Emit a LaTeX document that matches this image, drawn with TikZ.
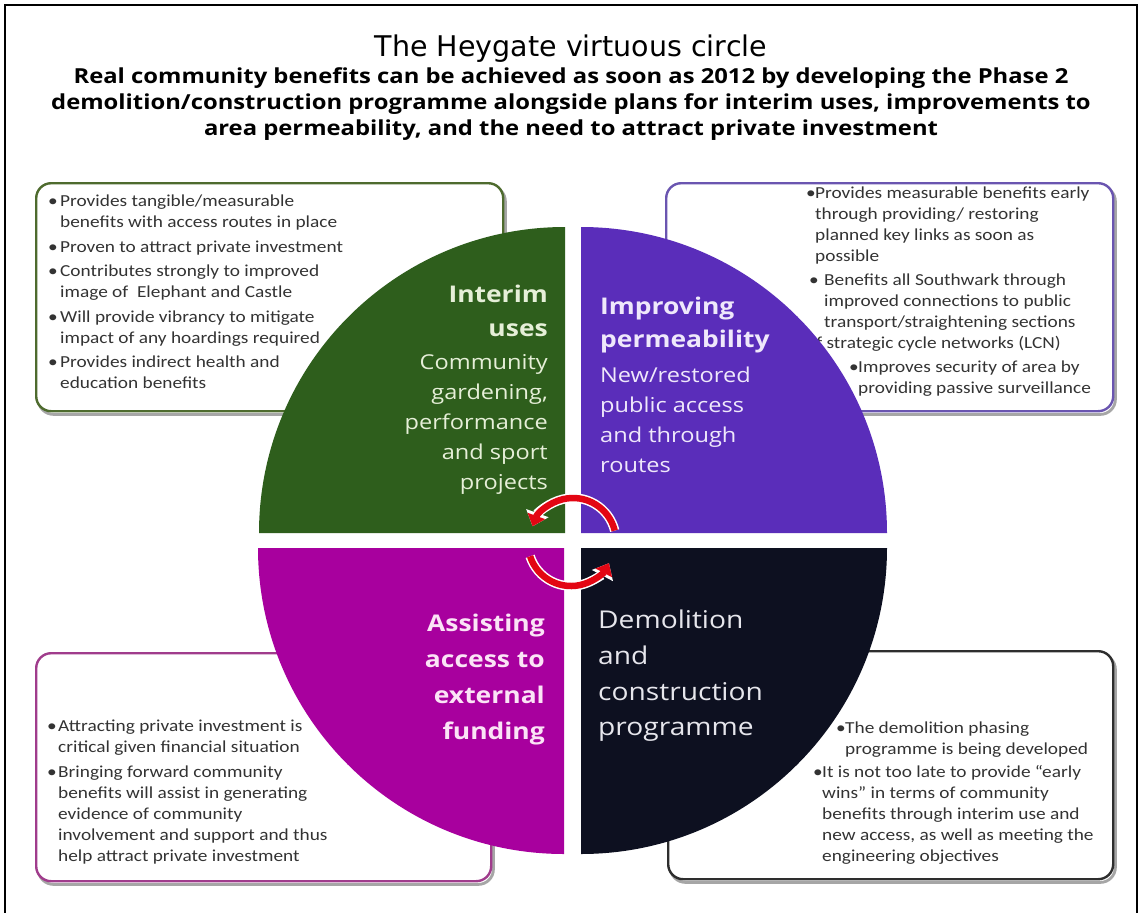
\documentclass[tikz,border=0pt]{standalone}
\usepackage{fontspec}
\setmainfont[FakeStretch=1.15]{Open Sans}
\newfontfamily\boxfont[FakeStretch=1.15]{Carlito}
\newfontfamily\titlefont{DejaVu Sans}
\usetikzlibrary{arrows.meta,calc}
\definecolor{qgreen}{HTML}{2E5E1C}
\definecolor{qpurple}{HTML}{5A2DBA}
\definecolor{qmagenta}{HTML}{A8009E}
\definecolor{qblack}{HTML}{0D1020}
\definecolor{bgreen}{HTML}{4E6B2E}
\definecolor{bpurple}{HTML}{6A55B0}
\definecolor{bmagenta}{HTML}{A03C8C}
\definecolor{bblack}{HTML}{2E2E2E}
\definecolor{arrred}{HTML}{E30613}
\definecolor{tgreen}{HTML}{E6EFD8}
\definecolor{tpurple}{HTML}{EFE8FB}
\definecolor{tmagenta}{HTML}{FBE3F6}
\definecolor{tblack}{HTML}{E6E6EC}
\newcommand\bul[1][9pt]{\makebox[#1][l]{\textbullet}}
\tikzset{
  infobox/.style={draw, fill=white, line width=2.4pt, rounded corners=15pt, anchor=north west, inner sep=0pt, minimum height=228pt},
  boxshadow/.style={draw=black!35, line width=2.8pt, rounded corners=15pt, anchor=north west, inner sep=0pt, minimum height=228pt},
  boxtext/.style={anchor=north west, align=left, inner sep=0pt, text=black!80,
    font=\boxfont\fontsize{16.8}{21}\selectfont},
  qlabel/.style={inner sep=0pt},
  redarc/.style={draw=arrred, line width=6.5pt, -{Triangle[length=11pt,width=18pt]}},
  whitearc/.style={draw=white, line width=9.5pt, -{Triangle[length=14pt,width=23pt]}},
}
\begin{document}
\begin{tikzpicture}[x=1pt,y=-1pt]
\useasboundingbox (0,0) rectangle (1141,913);
\fill[white] (0,0) rectangle (1141,913);
\draw[line width=2pt] (5,913) -- (5,5) -- (1137,5) -- (1137,913);

% title
\node (title) at (571,49) {\titlefont\fontsize{28.5}{32}\selectfont The Heygate virtuous circle};
\node[align=center, font=\bfseries\fontsize{20.7}{26}\selectfont] (sub) at (571,104)
  {Real community benefits can be achieved as soon as 2012 by developing the Phase 2\\
   demolition/construction programme alongside plans for interim uses, improvements to\\
   area permeability, and the need to attract private investment};

% boxes
\node[boxshadow, minimum width=467pt] (gshadow) at (37,185) {};
\node[infobox, draw=bgreen, minimum width=467pt] (gbox) at (35,182) {};
\node[boxshadow, minimum width=447pt] (pshadow) at (667,185) {};
\node[infobox, draw=bpurple, minimum width=447pt] (pbox) at (665,182) {};
\node[boxshadow, minimum width=455pt] (mshadow) at (37,655) {};
\node[infobox, draw=bmagenta, minimum width=455pt] (mbox) at (35,652) {};
\node[boxshadow, minimum width=445pt] (kshadow) at (669,653) {};
\node[infobox, draw=bblack, minimum width=445pt] (kbox) at (667,650) {};

% box texts
\node[boxtext] (gtext) at (48,195) {%
\bul[12pt]Provides tangible/measurable\\
\hspace*{12pt}benefits with access routes in place\\[3.5pt]
\bul[12pt]Proven to attract private investment\\[3.5pt]
\bul[12pt]Contributes strongly to improved\\
\hspace*{12pt}image of \ Elephant and Castle\\[3.5pt]
\bul[12pt]Will provide vibrancy to mitigate\\
\hspace*{12pt}impact of any hoardings required\\[3.5pt]
\bul[12pt]Provides indirect health and\\
\hspace*{12pt}education benefits};

\node[boxtext] (ptext) at (806,187) {%
\bul Provides measurable benefits early\\
\hspace*{9pt}through providing/ restoring\\
\hspace*{9pt}planned key links as soon as\\
\hspace*{9pt}possible\\[3pt]
\hspace*{3pt}\bul\hspace*{6pt}Benefits all Southwark through\\
\hspace*{18pt}improved connections to public\\
\hspace*{18pt}transport/straightening sections\\
of strategic cycle networks (LCN)\\[3pt]
\hspace*{43pt}\bul Improves security of area by\\
\hspace*{52pt}providing passive surveillance};

\node[boxtext] (mtext) at (47,720) {%
\bul[11pt]Attracting private investment is\\
\hspace*{11pt}critical given financial situation\\[4pt]
\bul[11pt]Bringing forward community\\
\hspace*{11pt}benefits will assist in generating\\
\hspace*{11pt}evidence of community\\
\hspace*{11pt}involvement and support and thus\\
\hspace*{11pt}help attract private investment};

\node[boxtext] (ktext) at (813,722) {%
\hspace*{23pt}\bul The demolition phasing\\
\hspace*{32pt}programme is being developed\\[2pt]
\bul It is not too late to provide “early\\
\hspace*{9pt}wins” in terms of community\\
\hspace*{9pt}benefits through interim use and\\
\hspace*{9pt}new access, as well as meeting the\\
\hspace*{9pt}engineering objectives};

% quadrants
\fill[qgreen] (565,533) -- (259,533) arc[start angle=180, end angle=270, radius=306] -- cycle;
\fill[qpurple] (581,533) -- (581,227) arc[start angle=270, end angle=360, radius=306] -- cycle;
\fill[qmagenta] (564,548) -- (564,854) arc[start angle=90, end angle=180, radius=306] -- cycle;
\fill[qblack] (581,548) -- (887,548) arc[start angle=0, end angle=90, radius=306] -- cycle;

% quadrant labels
\node[qlabel, anchor=north east, align=right, text=tgreen, font=\fontsize{20.5}{30}\selectfont] (glabel) at (548,285)
  {{\bfseries\fontsize{23}{30}\selectfont Interim}\\[4pt]
   {\bfseries\fontsize{23}{30}\selectfont uses}\\[3pt]
   Community\\ gardening,\\ performance\\ and sport\\ projects};
\node[qlabel, anchor=north west, align=left, text=tpurple, font=\fontsize{20.5}{30}\selectfont] (plabel) at (600,297)
  {{\bfseries\fontsize{23}{30}\selectfont Improving}\\[3pt]
   {\bfseries\fontsize{23}{30}\selectfont permeability}\\[5pt]
   New/restored\\ public access\\ and through\\ routes};
\node[qlabel, anchor=north east, align=right, text=tmagenta, font=\bfseries\fontsize{23}{36}\selectfont] (mlabel) at (545,614)
  {Assisting\\ access to\\ external\\ funding};
\node[qlabel, anchor=north west, align=left, text=tblack, font=\fontsize{24.5}{35.7}\selectfont] (klabel) at (598,610)
  {Demolition\\ and\\ construction\\ programme};

% centre arrows
\coordinate (uc) at (573,541);
\coordinate (lc) at (571,543);
\coordinate (ua) at ($(uc)+(346:43)$);
\coordinate (la) at ($(lc)+(162:43)$);
\draw[whitearc] (ua) arc[start angle=346, end angle=200, radius=43];
\draw[redarc] (ua) arc[start angle=346, end angle=200, radius=43];
\draw[whitearc] (la) arc[start angle=162, end angle=28, radius=43];
\draw[redarc] (la) arc[start angle=162, end angle=28, radius=43];
\end{tikzpicture}
\end{document}
